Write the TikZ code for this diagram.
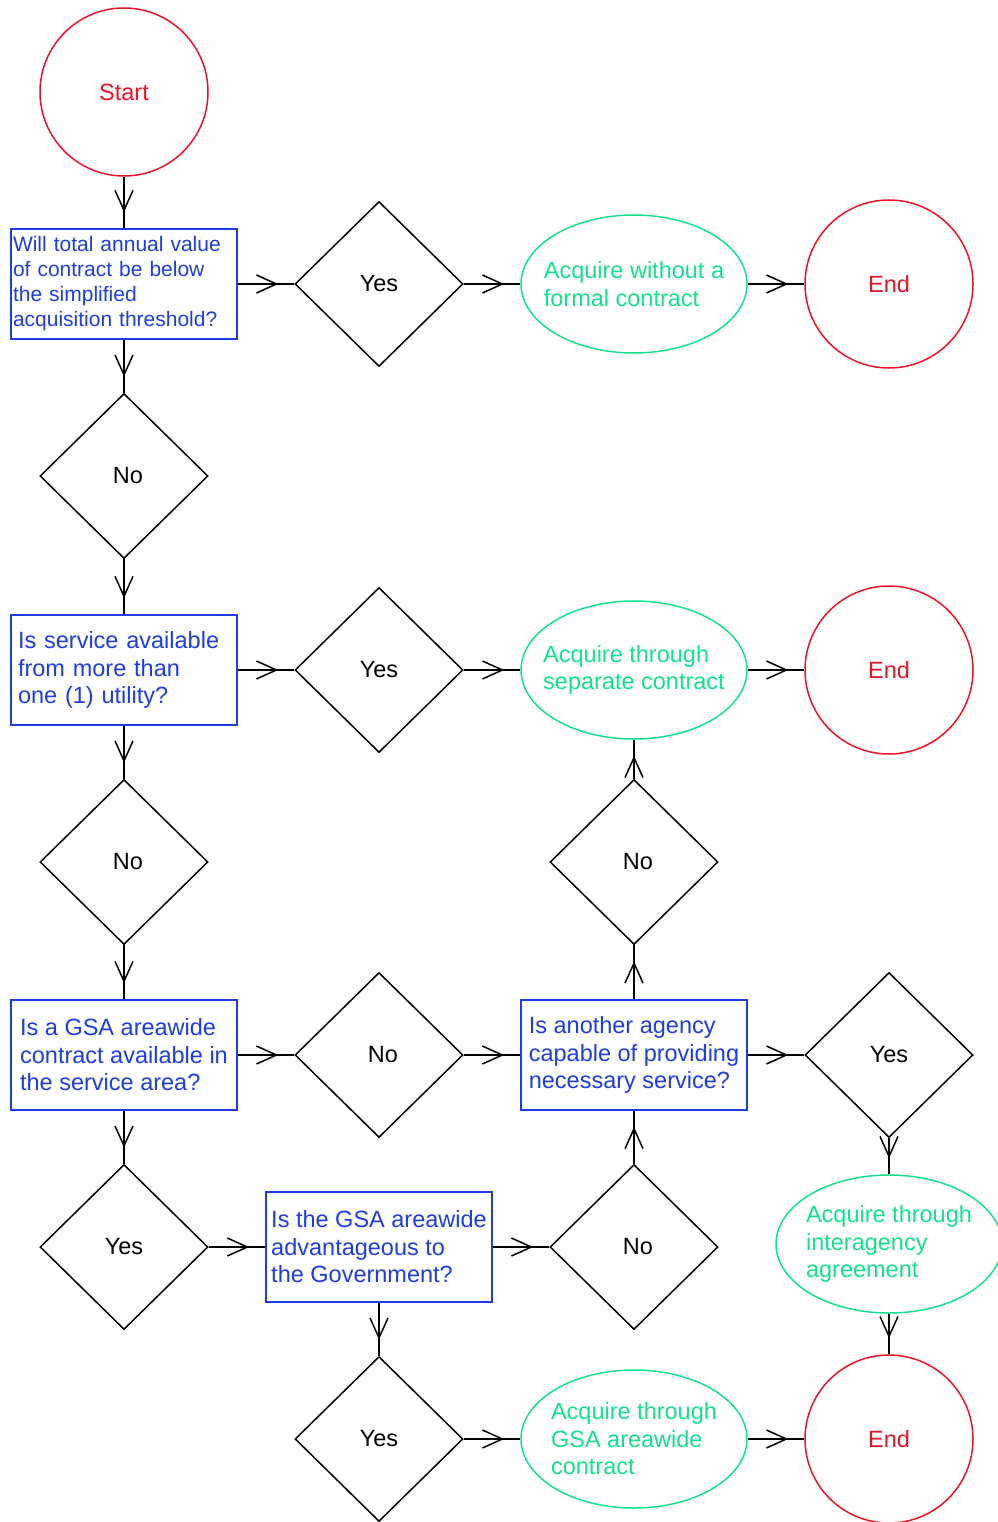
\documentclass[tikz,border=0pt]{standalone}
\usepackage{fontspec}
\setmainfont{Liberation Sans}
\usetikzlibrary{shapes.geometric,arrows.meta,decorations.markings}
\definecolor{qblue}{RGB}{30,60,225}
\definecolor{agreen}{RGB}{20,225,140}
\definecolor{ered}{RGB}{230,20,40}
\hyphenpenalty=10000
\exhyphenpenalty=10000
\begin{document}
\begin{tikzpicture}[x=1pt,y=-1pt,
  question/.style={draw=qblue, line width=1.7pt, text=qblue, rectangle, align=left,
    minimum width=226pt, inner xsep=4pt, inner ysep=0pt, minimum height=110pt,
    font=\fontsize{23.5}{27.5}\selectfont},
  decision/.style={draw=black, diamond, line width=1.5pt, minimum width=168pt,
    minimum height=165pt, inner sep=0pt, font=\fontsize{23.5}{27.5}\selectfont},
  action/.style={draw=agreen, ellipse, line width=1.5pt, text=agreen, align=left,
    minimum width=226pt, minimum height=138pt, inner xsep=-40pt, inner ysep=0pt,
    font=\fontsize{23.5}{27.5}\selectfont},
  terminal/.style={draw=ered, circle, text=ered, line width=1.5pt, minimum size=168pt,
    inner sep=0pt, font=\fontsize{23.5}{27.5}\selectfont},
  flow/.style={line width=1.5pt, postaction={decorate},
    decoration={markings, mark=at position -16pt with
      {\arrow{Straight Barb[length=20pt,width=18pt,line width=1.5pt]}}}}
]
\useasboundingbox[fill=white] (0,0) rectangle (997,1522);

\node[terminal] (start) at (124,92) {Start};
\node[question, text width=222pt, inner xsep=2pt, font=\fontsize{21}{25}\selectfont] (q1) at (124,284)
  {Will total annual value\\of contract be below\\the simplified\\acquisition threshold?};
\node[decision] (d1y) at (379,284) {Yes};
\node[action] (a1) at (634,284) {Acquire without a\\formal contract};
\node[terminal] (end1) at (889,284) {End};
\node[decision] (d1n) at (124,476) {\hspace*{8pt}No};

\node[question, text width=212pt, inner xsep=7pt] (q2) at (124,670) {Is service available\\from more than\\one (1) utility?};
\node[decision] (d2y) at (379,670) {Yes};
\node[action] (a2) at (634,670) {Acquire through\\separate contract};
\node[terminal] (end2) at (889,670) {End};
\node[decision] (d2n) at (124,862) {\hspace*{8pt}No};
\node[decision] (d4n) at (634,862) {\hspace*{8pt}No};

\node[question] (q3) at (124,1055) {Is a GSA areawide\\contract available in\\the service area?};
\node[decision] (d3n) at (379,1055) {\hspace*{8pt}No};
\node[question] (q4) at (634,1055) {Is another agency\\capable of providing\\necessary service?};
\node[decision] (d4y) at (889,1055) {Yes};

\node[decision] (d5y) at (124,1247) {Yes};
\node[question] (q5) at (379,1247) {Is the GSA areawide\\advantageous to\\the Government?};
\node[decision] (d5n) at (634,1247) {\hspace*{8pt}No};
\node[action] (a3) at (889,1244) {Acquire through\\interagency\\agreement};

\node[decision] (d6y) at (379,1439) {Yes};
\node[action] (a4) at (634,1439) {Acquire through\\GSA areawide\\contract};
\node[terminal] (end3) at (889,1439) {End};

\draw[flow] (start) -- (q1);
\draw[flow] (q1) -- (d1y);
\draw[flow] (d1y) -- (a1);
\draw[flow] (a1) -- (end1);
\draw[flow] (q1) -- (d1n);
\draw[flow] (d1n) -- (q2);
\draw[flow] (q2) -- (d2y);
\draw[flow] (d2y) -- (a2);
\draw[flow] (a2) -- (end2);
\draw[flow] (q2) -- (d2n);
\draw[flow] (d2n) -- (q3);
\draw[flow] (q3) -- (d3n);
\draw[flow] (d3n) -- (q4);
\draw[flow] (q4) -- (d4y);
\draw[flow] (d4y) -- (a3);
\draw[flow] (a3) -- (end3);
\draw[flow] (q4) -- (d4n);
\draw[flow] (d4n) -- (a2);
\draw[flow] (q3) -- (d5y);
\draw[flow] (d5y) -- (q5);
\draw[flow] (q5) -- (d5n);
\draw[flow] (d5n) -- (q4);
\draw[flow] (q5) -- (d6y);
\draw[flow] (d6y) -- (a4);
\draw[flow] (a4) -- (end3);
\end{tikzpicture}
\end{document}
